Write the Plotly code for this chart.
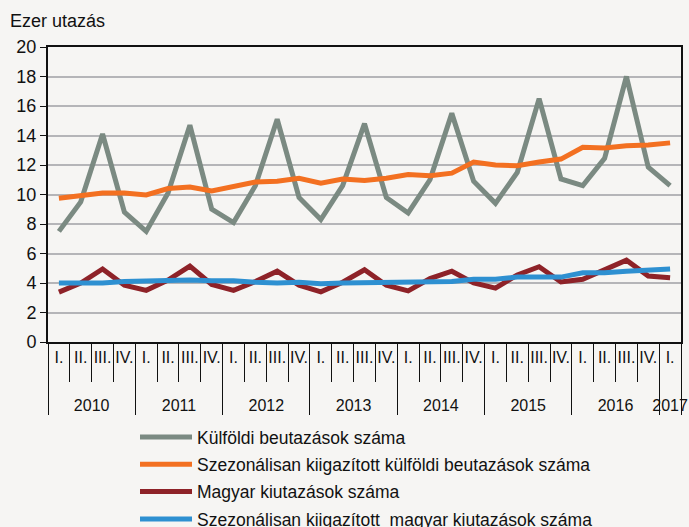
import plotly.graph_objects as go

years = ["2010"] * 4 + ["2011"] * 4 + ["2012"] * 4 + ["2013"] * 4 + ["2014"] * 4 + ["2015"] * 4 + ["2016"] * 4 + ["2017"]
quarter_names = ["I.", "II.", "III.", "IV."]
quarters = (quarter_names * 7) + ["I."]

kulfoldi = [7.5, 9.5, 14.1, 8.8,
            7.5, 10.1, 14.7, 9.0,
            8.1, 10.6, 15.1, 9.8,
            8.3, 10.6, 14.8, 9.8,
            8.75, 11.0, 15.5, 10.9,
            9.4, 11.5, 16.5, 11.05,
            10.6, 12.45, 18.0, 11.85,
            10.6]
kulfoldi_sa = [9.75, 9.9, 10.1, 10.1,
               9.97, 10.4, 10.5, 10.24,
               10.58, 10.85, 10.9, 11.1,
               10.76, 11.05, 10.95, 11.1,
               11.35, 11.27, 11.45, 12.2,
               12.0, 11.95, 12.2, 12.4,
               13.2, 13.15, 13.3, 13.35,
               13.5]
magyar = [3.38, 4.0, 4.95, 3.85,
          3.5, 4.2, 5.15, 3.9,
          3.5, 4.1, 4.8, 3.85,
          3.4, 4.05, 4.9, 3.85,
          3.47, 4.3, 4.8, 4.0,
          3.65, 4.55, 5.1, 4.07,
          4.25, 4.87, 5.55, 4.47,
          4.35]
magyar_sa = [4.0, 4.0, 4.0, 4.1,
             4.15, 4.15, 4.2, 4.15,
             4.15, 4.05, 4.0, 4.05,
             3.95, 4.0, 4.03, 4.05,
             4.05, 4.1, 4.1, 4.25,
             4.25, 4.4, 4.4, 4.4,
             4.7, 4.7, 4.8, 4.9,
             4.95]

names = ["Külföldi beutazások száma",
         "Szezonálisan kiigazított külföldi beutazások száma",
         "Magyar kiutazások száma",
         "Szezonálisan kiigazított  magyar kiutazások száma"]
colors = ["#7b8a82", "#f37021", "#8e2228", "#2e90d1"]
series = [kulfoldi, kulfoldi_sa, magyar, magyar_sa]

# quarter labels carry a blank second line to push the year row lower
q_labels = [q + "<br><span style='font-size:41px'>&nbsp;</span>" for q in quarters]

fig = go.Figure()
for i, (nm, col, ys) in enumerate(zip(names, colors, series)):
    fig.add_trace(go.Scatter(x=[years, q_labels], y=ys, mode="lines", name=nm,
                             legendgroup=str(i),
                             line=dict(color=col, width=5)))

bg = "#f6f5f3"
FONT = "Liberation Sans, Arial, sans-serif"
fig.update_layout(
    width=689, height=527,
    margin=dict(l=48, r=8, t=47, b=185, autoexpand=False),
    paper_bgcolor=bg, plot_bgcolor=bg,
    font=dict(family=FONT, color="#111", size=17),
    title=dict(text="Ezer utazás", x=10 / 689, xanchor="left", xref="container",
               y=1 - 21 / 527, yanchor="middle", yref="container",
               font=dict(size=18, color="#111")),
    showlegend=True,
    legend=dict(orientation="v", x=135 / 689, xref="container", xanchor="left",
                y=1 - 419 / 527, yref="container", yanchor="top", bgcolor="rgba(0,0,0,0)",
                font=dict(size=17.5, color="#111"), tracegroupgap=1.6,
                itemwidth=52, traceorder="grouped"),
)
fig.update_yaxes(range=[0, 20], dtick=2, showgrid=True, gridcolor="#b5b5b8", gridwidth=1.5,
                 showline=True, linecolor="#111", linewidth=2, mirror=True,
                 ticks="outside", ticklen=6, tickcolor="#111",
                 tickfont=dict(size=18), zeroline=False, automargin=False)
fig.update_xaxes(type="multicategory", range=[-0.5, len(quarters) - 0.5],
                 showline=True, linecolor="#111", linewidth=2, mirror=True,
                 ticks="outside", ticklen=38, tickcolor="#111", tickwidth=1,
                 dtick=1,
                 showdividers=True, dividercolor="#111", dividerwidth=1,
                 tickangle=0, tickfont=dict(size=16), showgrid=False, automargin=False)

fig.write_html("out.html")
